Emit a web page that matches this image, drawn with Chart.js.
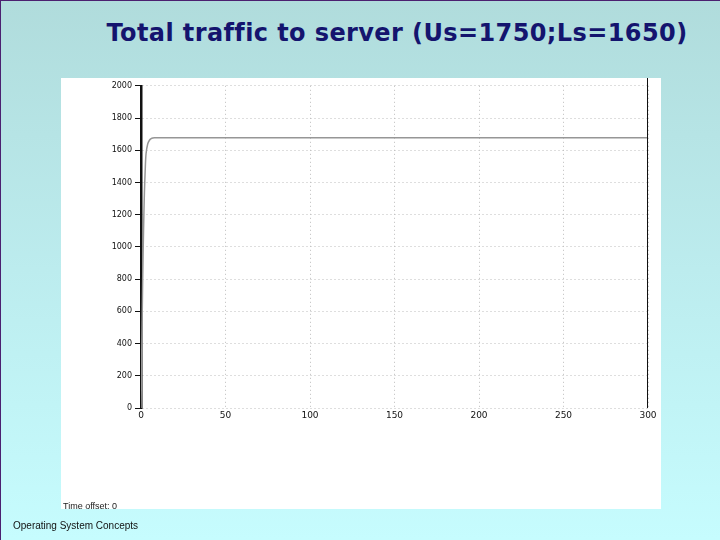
<!DOCTYPE html>
<html>
<head>
<meta charset="utf-8">
<script src="https://cdn.jsdelivr.net/npm/chart.js@4"></script>
<style>
    html, body { margin: 0; padding: 0; }
    body {
        width: 720px; height: 540px; position: relative; overflow: hidden;
        background: linear-gradient(to bottom, #b0dcdc 0%, #bcecee 50%, #c6fcfe 100%);
        box-sizing: border-box; border-left: 1px solid #4b2070; border-top: 1px solid #4b2070;
    }
    #title {
        position: absolute; left: 96px; top: 18px; width: 600px; text-align: center;
        font-family: "DejaVu Sans", sans-serif; font-weight: bold;
        font-size: 24px; letter-spacing: 0.4px; color: #14146e;
    }
    #panel {
        position: absolute; left: 60px; top: 77px; width: 600px; height: 431px; background: #fff;
    }
    #offset {
        position: absolute; left: 62px; top: 500px; font-family: "Liberation Sans", Arial, sans-serif;
        font-size: 9px; color: #222;
    }
    #footer {
        position: absolute; left: 12px; top: 519px; font-family: "Liberation Sans", Arial, sans-serif;
        font-size: 10px; color: #111;
    }
</style>
</head>
<body>
<div id="title">Total traffic to server (Us=1750;Ls=1650)</div>
<div id="panel"><canvas id="trafficChart" width="600" height="431"></canvas></div>
<div id="offset">Time offset: 0</div>
<div id="footer">Operating System Concepts</div>
<script>
    // Data
    const timeSteps = [0, 0.5, 1, 1.5, 2, 2.5, 3, 4, 5, 6, 7, 8, 300];
    const totalTraffic = [0, 400, 800, 1100, 1330, 1480, 1580, 1640, 1662, 1672, 1676, 1677, 1677];
    const xTicks = [0, 50, 100, 150, 200, 250, 300];
    const yTicks = [0, 200, 400, 600, 800, 1000, 1200, 1400, 1600, 1800, 2000];

    const points = timeSteps.map((t, i) => ({ x: t, y: totalTraffic[i] }));

    // draws the right-hand frame line
    const frameLine = {
        id: 'frameLine',
        afterDraw(chart) {
            const ctx = chart.ctx;
            const area = chart.chartArea;
            ctx.save();
            ctx.strokeStyle = '#111';
            ctx.lineWidth = 1;
            ctx.beginPath();
            ctx.moveTo(area.right - 0.5, 0);
            ctx.lineTo(area.right - 0.5, area.bottom);
            ctx.stroke();
            ctx.restore();
        }
    };

    const ctx = document.getElementById('trafficChart').getContext('2d');
    new Chart(ctx, {
        type: 'line',
        data: {
            datasets: [{
                label: 'Total traffic',
                data: points,
                borderColor: '#969696',
                borderWidth: 1.5,
                pointRadius: 0,
                tension: 0.3,
                fill: false
            }]
        },
        options: {
            responsive: false,
            animation: false,
            layout: { padding: { top: 7, right: 13, left: 0, bottom: 0 } },
            plugins: { legend: { display: false }, tooltip: { enabled: false } },
            scales: {
                x: {
                    type: 'linear', min: 0, max: 300,
                    afterBuildTicks: axis => { axis.ticks = xTicks.map(v => ({ value: v })); },
                    afterFit: axis => { axis.height = 101; },
                    grid: { color: '#bdbdbd', drawTicks: false },
                    border: { display: false, dash: [1, 3] },
                    ticks: {
                        color: '#111', padding: 2, maxRotation: 0,
                        font: { family: 'DejaVu Sans', size: 9 },
                        callback: v => String(v)
                    }
                },
                y: {
                    min: 0, max: 2000,
                    afterBuildTicks: axis => { axis.ticks = yTicks.map(v => ({ value: v })); },
                    afterFit: axis => { axis.width = 80; },
                    grid: { color: '#bdbdbd', tickLength: 6, tickColor: '#111' },
                    border: { color: '#111', width: 2.5, dash: [1, 3] },
                    ticks: {
                        color: '#111', padding: 3,
                        font: { family: 'DejaVu Sans', size: 8 },
                        callback: v => String(v)
                    }
                }
            }
        },
        plugins: [frameLine]
    });
</script>
</body>
</html>
